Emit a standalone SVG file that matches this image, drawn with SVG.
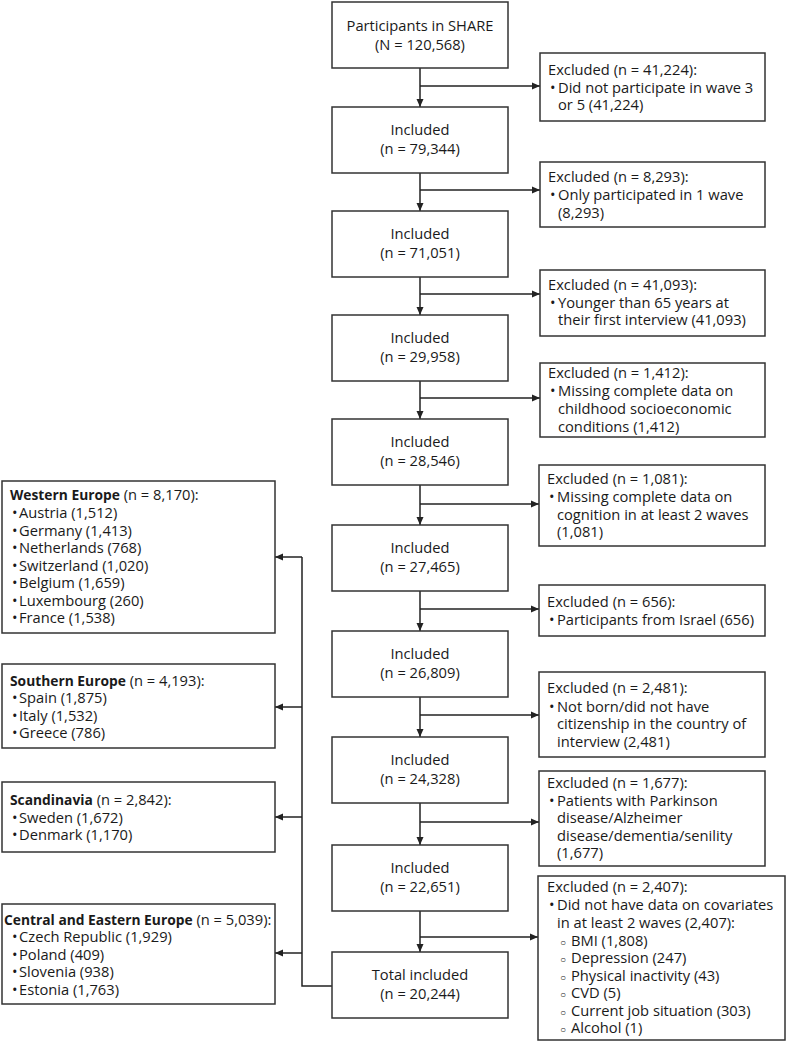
<svg xmlns="http://www.w3.org/2000/svg" width="786" height="1042" viewBox="0 0 786 1042">
<defs>
<marker id="ah" markerUnits="userSpaceOnUse" markerWidth="8" markerHeight="8" refX="8" refY="4" orient="auto">
<path d="M0,0.5 L8,4 L0,7.5 z" fill="#222"/>
</marker>
<style>
text{font-family:"Open Sans","Noto Sans","Liberation Sans",sans-serif;font-size:14.7px;fill:#1a1a1a}
.c{text-anchor:middle}
.b{font-weight:bold;font-size:13.8px}
.o{font-size:10px}
rect{fill:#fff;stroke:#333;stroke-width:1.5}
.ln{fill:none;stroke:#222;stroke-width:1.5}
</style>
</defs>
<rect x="0" y="0" width="786" height="1042" style="fill:#fff;stroke:none"/>
<g id="connectors">
<path class="ln" d="M420,68 V107" marker-end="url(#ah)"/>
<path class="ln" d="M420,173 V211" marker-end="url(#ah)"/>
<path class="ln" d="M420,277 V315" marker-end="url(#ah)"/>
<path class="ln" d="M420,381 V419" marker-end="url(#ah)"/>
<path class="ln" d="M420,485 V525" marker-end="url(#ah)"/>
<path class="ln" d="M420,591 V631" marker-end="url(#ah)"/>
<path class="ln" d="M420,697 V737" marker-end="url(#ah)"/>
<path class="ln" d="M420,803 V845" marker-end="url(#ah)"/>
<path class="ln" d="M420,911 V952" marker-end="url(#ah)"/>
<path class="ln" d="M420,86 H540" marker-end="url(#ah)"/>
<path class="ln" d="M420,190 H540" marker-end="url(#ah)"/>
<path class="ln" d="M420,294 H540" marker-end="url(#ah)"/>
<path class="ln" d="M420,398 H540" marker-end="url(#ah)"/>
<path class="ln" d="M420,504 H539" marker-end="url(#ah)"/>
<path class="ln" d="M420,609 H539" marker-end="url(#ah)"/>
<path class="ln" d="M420,715 H539" marker-end="url(#ah)"/>
<path class="ln" d="M420,822 H539" marker-end="url(#ah)"/>
<path class="ln" d="M420,937 H538" marker-end="url(#ah)"/>
<path class="ln" d="M332,986 H302 V557"/>
<path class="ln" d="M302,557 H275" marker-end="url(#ah)"/>
<path class="ln" d="M302,707 H275" marker-end="url(#ah)"/>
<path class="ln" d="M302,817 H275" marker-end="url(#ah)"/>
<path class="ln" d="M302,953 H275" marker-end="url(#ah)"/>
</g>
<g id="n1"><rect x="332" y="2" width="176" height="66"/><text class="c" x="420" y="31">Participants in SHARE</text><text class="c" x="420" y="50">(N = 120,568)</text></g>
<g id="n2"><rect x="332" y="107" width="176" height="66"/><text class="c" x="420" y="135">Included</text><text class="c" x="420" y="154">(n = 79,344)</text></g>
<g id="n3"><rect x="332" y="211" width="176" height="66"/><text class="c" x="420" y="239">Included</text><text class="c" x="420" y="258">(n = 71,051)</text></g>
<g id="n4"><rect x="332" y="315" width="176" height="66"/><text class="c" x="420" y="343">Included</text><text class="c" x="420" y="362">(n = 29,958)</text></g>
<g id="n5"><rect x="332" y="419" width="176" height="66"/><text class="c" x="420" y="447">Included</text><text class="c" x="420" y="466">(n = 28,546)</text></g>
<g id="n6"><rect x="332" y="525" width="176" height="66"/><text class="c" x="420" y="553">Included</text><text class="c" x="420" y="572">(n = 27,465)</text></g>
<g id="n7"><rect x="332" y="631" width="176" height="66"/><text class="c" x="420" y="659">Included</text><text class="c" x="420" y="678">(n = 26,809)</text></g>
<g id="n8"><rect x="332" y="737" width="176" height="66"/><text class="c" x="420" y="765">Included</text><text class="c" x="420" y="784">(n = 24,328)</text></g>
<g id="n9"><rect x="332" y="845" width="176" height="66"/><text class="c" x="420" y="873">Included</text><text class="c" x="420" y="892">(n = 22,651)</text></g>
<g id="n10"><rect x="332" y="952" width="176" height="66"/><text class="c" x="420" y="980">Total included</text><text class="c" x="420" y="999">(n = 20,244)</text></g>

<g id="e1"><rect x="540" y="53" width="225" height="68"/>
<text x="548" y="75">Excluded (n = 41,224):</text>
<text y="93"><tspan x="550">•</tspan><tspan x="558">Did not participate in wave 3</tspan></text>
<text x="558" y="110">or 5 (41,224)</text></g>
<g id="e2"><rect x="540" y="162" width="225" height="65"/>
<text x="548" y="182">Excluded (n = 8,293):</text>
<text y="200"><tspan x="550">•</tspan><tspan x="558">Only participated in 1 wave</tspan></text>
<text x="558" y="218">(8,293)</text></g>
<g id="e3"><rect x="540" y="270" width="225" height="66"/>
<text x="548" y="290">Excluded (n = 41,093):</text>
<text y="308"><tspan x="550">•</tspan><tspan x="558">Younger than 65 years at</tspan></text>
<text x="558" y="325">their first interview (41,093)</text></g>
<g id="e4"><rect x="540" y="363" width="225" height="74"/>
<text x="548" y="378">Excluded (n = 1,412):</text>
<text y="396"><tspan x="550">•</tspan><tspan x="558">Missing complete data on</tspan></text>
<text x="558" y="414">childhood socioeconomic</text>
<text x="558" y="432">conditions (1,412)</text></g>
<g id="e5"><rect x="539" y="465" width="226" height="81"/>
<text x="547" y="484">Excluded (n = 1,081):</text>
<text y="502"><tspan x="549">•</tspan><tspan x="557">Missing complete data on</tspan></text>
<text x="557" y="520">cognition in at least 2 waves</text>
<text x="557" y="537">(1,081)</text></g>
<g id="e6"><rect x="539" y="585" width="226" height="51"/>
<text x="547" y="607">Excluded (n = 656):</text>
<text y="625"><tspan x="549">•</tspan><tspan x="557">Participants from Israel (656)</tspan></text></g>
<g id="e7"><rect x="539" y="672" width="226" height="85"/>
<text x="547" y="693">Excluded (n = 2,481):</text>
<text y="712"><tspan x="549">•</tspan><tspan x="557">Not born/did not have</tspan></text>
<text x="557" y="729">citizenship in the country of</text>
<text x="557" y="747">interview (2,481)</text></g>
<g id="e8"><rect x="539" y="771" width="226" height="95"/>
<text x="547" y="788">Excluded (n = 1,677):</text>
<text y="806"><tspan x="549">•</tspan><tspan x="557">Patients with Parkinson</tspan></text>
<text x="557" y="823">disease/Alzheimer</text>
<text x="557" y="841">disease/dementia/senility</text>
<text x="557" y="858">(1,677)</text></g>
<g id="e9"><rect x="538" y="876" width="247" height="164"/>
<text x="547" y="892">Excluded (n = 2,407):</text>
<text y="910"><tspan x="549">•</tspan><tspan x="557">Did not have data on covariates</tspan></text>
<text x="557" y="928">in at least 2 waves (2,407):</text>
<text y="946"><tspan x="560" class="o">○</tspan><tspan x="571">BMI (1,808)</tspan></text>
<text y="963"><tspan x="560" class="o">○</tspan><tspan x="571">Depression (247)</tspan></text>
<text y="981"><tspan x="560" class="o">○</tspan><tspan x="571">Physical inactivity (43)</tspan></text>
<text y="998"><tspan x="560" class="o">○</tspan><tspan x="571">CVD (5)</tspan></text>
<text y="1016"><tspan x="560" class="o">○</tspan><tspan x="571">Current job situation (303)</tspan></text>
<text y="1033"><tspan x="560" class="o">○</tspan><tspan x="571">Alcohol (1)</tspan></text></g>

<g id="west"><rect x="2" y="481" width="273" height="152"/>
<text y="500"><tspan x="10" class="b">Western Europe</tspan><tspan> (n = 8,170):</tspan></text>
<text y="518"><tspan x="12">•</tspan><tspan x="19">Austria (1,512)</tspan></text>
<text y="536"><tspan x="12">•</tspan><tspan x="19">Germany (1,413)</tspan></text>
<text y="553"><tspan x="12">•</tspan><tspan x="19">Netherlands (768)</tspan></text>
<text y="571"><tspan x="12">•</tspan><tspan x="19">Switzerland (1,020)</tspan></text>
<text y="588"><tspan x="12">•</tspan><tspan x="19">Belgium (1,659)</tspan></text>
<text y="606"><tspan x="12">•</tspan><tspan x="19">Luxembourg (260)</tspan></text>
<text y="623"><tspan x="12">•</tspan><tspan x="19">France (1,538)</tspan></text></g>
<g id="south"><rect x="2" y="664" width="273" height="84"/>
<text y="686"><tspan x="10" class="b">Southern Europe</tspan><tspan> (n = 4,193):</tspan></text>
<text y="703"><tspan x="12">•</tspan><tspan x="19">Spain (1,875)</tspan></text>
<text y="721"><tspan x="12">•</tspan><tspan x="19">Italy (1,532)</tspan></text>
<text y="738"><tspan x="12">•</tspan><tspan x="19">Greece (786)</tspan></text></g>
<g id="scand"><rect x="2" y="782" width="273" height="70"/>
<text y="805"><tspan x="10" class="b">Scandinavia</tspan><tspan> (n = 2,842):</tspan></text>
<text y="823"><tspan x="12">•</tspan><tspan x="19">Sweden (1,672)</tspan></text>
<text y="840"><tspan x="12">•</tspan><tspan x="19">Denmark (1,170)</tspan></text></g>
<g id="central"><rect x="2" y="904" width="273" height="100"/>
<text y="925"><tspan x="4" class="b">Central and Eastern Europe</tspan><tspan> (n = 5,039):</tspan></text>
<text y="942"><tspan x="12">•</tspan><tspan x="19">Czech Republic (1,929)</tspan></text>
<text y="960"><tspan x="12">•</tspan><tspan x="19">Poland (409)</tspan></text>
<text y="977"><tspan x="12">•</tspan><tspan x="19">Slovenia (938)</tspan></text>
<text y="995"><tspan x="12">•</tspan><tspan x="19">Estonia (1,763)</tspan></text></g>
</svg>
